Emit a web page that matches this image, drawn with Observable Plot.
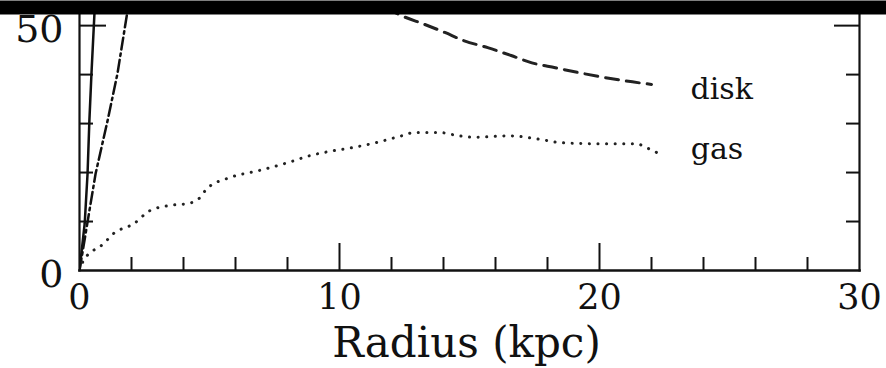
<!DOCTYPE html>
<html><head><meta charset="utf-8">
<script src="https://cdn.jsdelivr.net/npm/d3@7"></script>
<script src="https://cdn.jsdelivr.net/npm/@observablehq/plot@0.6"></script>
<style>
body{margin:0;background:#fff}
#chart svg{font-family:"DejaVu Serif",serif;color:#111;background:#fff}
</style>
</head><body><div id="chart"></div>
<script>
// Rotation-curve components (radius in kpc, velocity)
const solidR   = [0, 0.2, 0.31, 0.38, 0.46, 0.58, 0.6];
const solidV   = [0, 9.6, 19.8, 30.6, 40.2, 53.0, 55.0];
const dashdotR = [0, 0.3, 0.62, 1.08, 1.46, 1.85, 1.92];
const dashdotV = [0, 9.6, 19.8, 30.6, 40.2, 53.1, 55.0];
const diskR = [11.8, 12.4, 13.2, 14.05, 14.8, 15.7, 16.6, 17.4, 18.3, 19.2, 20.0, 21.0, 22.0];
const diskV = [53.6, 52.0, 50.4, 48.6, 46.9, 45.5, 43.9, 42.4, 41.4, 40.4, 39.6, 38.7, 38.0];
const gasR = [0, 0.15, 0.93, 1.3, 2.1, 2.7, 3.5, 4.2, 4.6, 4.9, 5.8, 6.9, 8.0, 8.9, 9.6, 10.5, 11.4, 12.4, 12.9, 13.8, 14.6, 15.2, 16.5, 17.8, 18.5, 19.7, 21.4, 21.8, 22.2];
const gasV = [0, 2.0, 5.5, 7.5, 9.6, 12.2, 13.3, 13.7, 14.7, 16.7, 19.0, 20.4, 22.0, 23.5, 24.3, 25.1, 26.1, 27.5, 28.2, 28.2, 27.5, 27.2, 27.5, 26.7, 26.1, 25.9, 25.9, 25.1, 24.1];

const xTickLabels = [0, 10, 20, 30];
const xMajorTicks = [10, 20];
const xMinorTicks = [2, 4, 6, 8, 12, 14, 16, 18, 22, 24, 26, 28];
const yTickLabels = [0, 50];
const yMajorTicks = [50];
const yMinorTicks = [10, 20, 30, 40];
const xLabel = "Radius (kpc)";
const seriesLabels = ["disk", "gas"];
const xDomain = [0, 30];
const yDomain = [0, 53.7];

const rows = (R, V) => R.map((r, i) => ({r, v: V[i]}));
const solid = rows(solidR, solidV);
const dashdot = rows(dashdotR, dashdotV);
const disk = rows(diskR, diskV);
const gas = rows(gasR, gasV);

const ink = "#111";
const chart = Plot.plot({
  width: 886, height: 368,
  marginLeft: 79, marginRight: 27, marginTop: 7, marginBottom: 98,
  x: {domain: xDomain, label: null},
  y: {domain: yDomain, label: null},
  marks: [
    // curves
    Plot.line(solid, {x: "r", y: "v", stroke: ink, strokeWidth: 2.5, clip: true}),
    Plot.line(dashdot, {x: "r", y: "v", stroke: ink, strokeWidth: 2.5, strokeDasharray: "12,4,2.5,4", clip: true}),
    Plot.line(disk, {x: "r", y: "v", curve: "monotone-x", stroke: "#222", strokeWidth: 3, strokeDasharray: "13,8", clip: true}),
    Plot.line(gas, {x: "r", y: "v", curve: "monotone-x", stroke: "#222", strokeWidth: 3, strokeDasharray: "0.1,8.5", strokeLinecap: "round", clip: true}),
    // series labels
    Plot.text(disk, Plot.selectLast({x: "r", y: "v", text: () => seriesLabels[0], dx: 39, dy: 5, textAnchor: "start", fontSize: 30, fill: ink})),
    Plot.text(gas, Plot.selectLast({x: "r", y: "v", text: () => seriesLabels[1], dx: 34, dy: -3, textAnchor: "start", fontSize: 30, fill: ink})),
    // frame
    Plot.frame({anchor: "left", strokeWidth: 2.2, stroke: ink}),
    Plot.frame({anchor: "right", strokeWidth: 2.2, stroke: ink}),
    Plot.frame({anchor: "bottom", strokeWidth: 2.6, stroke: ink}),
    Plot.frame({anchor: "top", strokeWidth: 14, stroke: "#000", insetLeft: -79, insetRight: -27}),
    // x ticks (inward)
    Plot.axisX({ticks: xMinorTicks, tickSize: -13, text: null, strokeWidth: 2, label: null}),
    Plot.axisX({ticks: xMajorTicks, tickSize: -27, text: null, strokeWidth: 2, label: null}),
    Plot.axisX({ticks: xTickLabels, tickSize: 0, tickPadding: 14, fontSize: 35, label: null}),
    // y ticks
    Plot.axisY({anchor: "left", ticks: yMinorTicks, tickSize: -14, text: null, strokeWidth: 2, label: null}),
    Plot.axisY({anchor: "left", ticks: yMajorTicks, tickSize: -27, text: null, strokeWidth: 2, label: null}),
    Plot.axisY({anchor: "left", ticks: yTickLabels, tickSize: 0, tickPadding: 16, dy: 4, fontSize: 38, label: null}),
    Plot.axisY({anchor: "right", ticks: yMinorTicks, tickSize: -14, text: null, strokeWidth: 2, label: null}),
    Plot.axisY({anchor: "right", ticks: yMajorTicks, tickSize: -26, text: null, strokeWidth: 2, label: null}),
    // axis title
    Plot.text([xLabel], {frameAnchor: "bottom", dx: -3, dy: 57, lineAnchor: "top", fontSize: 42, fill: ink})
  ]
});
document.getElementById("chart").append(chart);
</script>
</body></html>
